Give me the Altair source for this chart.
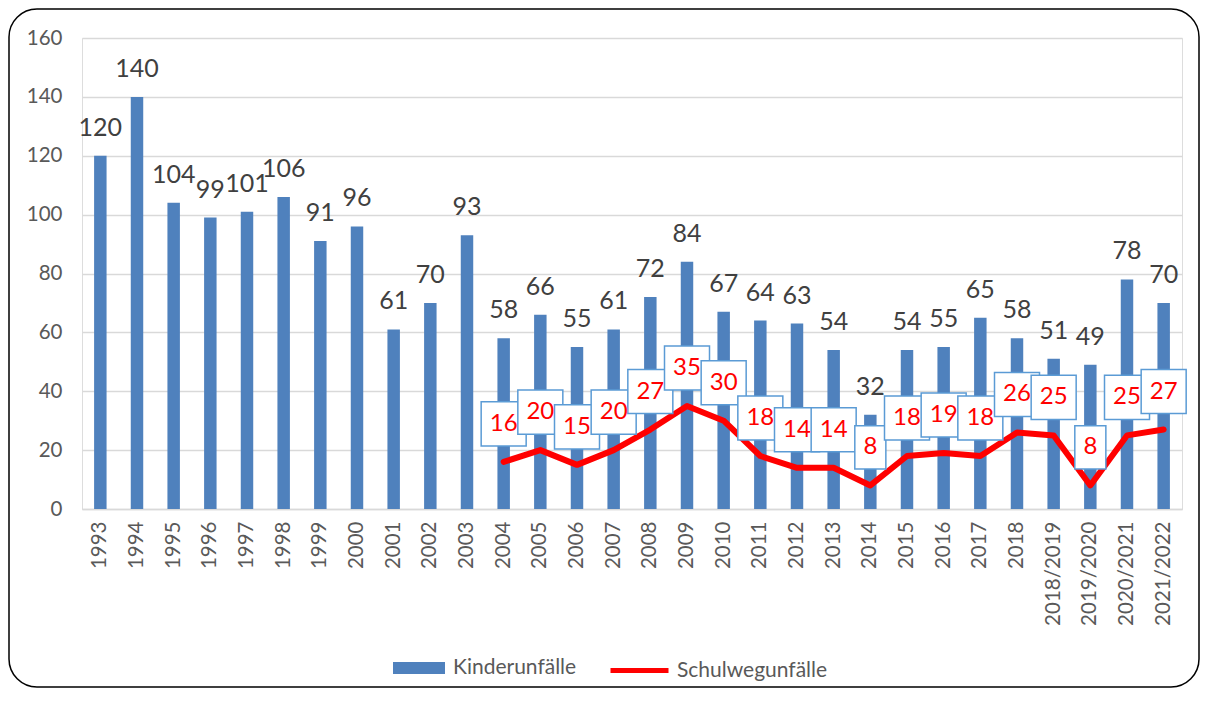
import altair as alt
import pandas as pd

years = ["1993", "1994", "1995", "1996", "1997", "1998", "1999", "2000", "2001", "2002",
         "2003", "2004", "2005", "2006", "2007", "2008", "2009", "2010", "2011", "2012",
         "2013", "2014", "2015", "2016", "2017", "2018", "2018/2019", "2019/2020",
         "2020/2021", "2021/2022"]
kinder = [120, 140, 104, 99, 101, 106, 91, 96, 61, 70, 93, 58, 66, 55, 61, 72, 84, 67,
          64, 63, 54, 32, 54, 55, 65, 58, 51, 49, 78, 70]
schul = [None] * 11 + [16, 20, 15, 20, 27, 35, 30, 18, 14, 14, 8, 18, 19, 18, 26, 25, 8, 25, 27]
y_ticks = [0, 20, 40, 60, 80, 100, 120, 140, 160]

df = pd.DataFrame({"Jahr": years, "Kinder": kinder, "Schul": schul})

FONT = "Lato"
BLUE = "#4f81bd"
RED = "#ff0000"

xenc = alt.X("Jahr:N", sort=years,
             scale=alt.Scale(paddingInner=0.66, paddingOuter=0.33),
             axis=alt.Axis(title=None, labelAngle=-90, labelFontSize=20.5, labelColor="#595959",
                           labelFont=FONT, ticks=False, domainColor="#d9d9d9", domainWidth=1.5,
                           labelPadding=12, grid=False))
yaxis = alt.Axis(title=None, values=y_ticks, grid=True, gridColor="#d9d9d9", gridWidth=1.3,
                 domain=False, ticks=False, labelPadding=20, labelFontSize=20.5,
                 labelColor="#595959", labelFont=FONT)
yscale = alt.Scale(domain=[0, 160], nice=False)

base = alt.Chart(df)

bars = base.transform_calculate(serie="'Kinderunfälle'").mark_bar().encode(
    x=xenc,
    y=alt.Y("Kinder:Q", scale=yscale, axis=yaxis),
    color=alt.Color("serie:N", scale=alt.Scale(domain=["Kinderunfälle"], range=[BLUE]),
                    legend=alt.Legend(orient="none", legendX=311, legendY=604, title=None,
                                      symbolType="M-1,-0.23L1,-0.23L1,0.23L-1,0.23Z",
                                      symbolSize=2704, symbolStrokeWidth=0,
                                      labelFontSize=21, labelColor="#595959", labelFont=FONT,
                                      labelOffset=8)),
)

bar_labels = base.mark_text(fontSize=25, font=FONT, color="#404040", baseline="middle", dy=-28).encode(
    x=xenc,
    y=alt.Y("Kinder:Q", scale=yscale, axis=yaxis),
    text=alt.Text("Kinder:Q"),
)

line_base = base.transform_filter("isValid(datum.Schul)")

line = line_base.transform_calculate(serie2="'Schulwegunfälle'").mark_line(
    strokeWidth=6, strokeCap="round", strokeJoin="round").encode(
    x=xenc,
    y=alt.Y("Schul:Q", scale=yscale, axis=yaxis),
    stroke=alt.Stroke("serie2:N", scale=alt.Scale(domain=["Schulwegunfälle"], range=[RED]),
                      legend=alt.Legend(orient="none", legendX=526, legendY=601, title=None,
                                        symbolType="stroke", symbolSize=3364,
                                        symbolStrokeWidth=5, labelFontSize=21,
                                        labelColor="#595959", labelFont=FONT, labelOffset=6)),
)

boxes = line_base.mark_point(filled=True, fill="white", stroke="#5b9bd5", strokeWidth=1.5,
                             opacity=1, size=2025, yOffset=-38).encode(
    x=xenc,
    y=alt.Y("Schul:Q", scale=yscale, axis=yaxis),
    shape=alt.condition("datum.Schul < 10",
                        alt.value("M-0.69,-0.96L0.69,-0.96L0.69,0.96L-0.69,0.96Z"),
                        alt.value("M-1,-0.98L1,-0.98L1,0.98L-1,0.98Z")),
)

box_labels = line_base.mark_text(fontSize=24, font=FONT, color=RED, baseline="middle", dy=-38).encode(
    x=xenc,
    y=alt.Y("Schul:Q", scale=yscale, axis=yaxis),
    text=alt.Text("Schul:Q"),
)

border = alt.Chart(pd.DataFrame({"a": [0]})).mark_rect(
    fill="transparent", stroke="black", strokeWidth=1.5, cornerRadius=28).encode(
    x=alt.value(-73), x2=alt.value(1117), y=alt.value(-29), y2=alt.value(649))

chart = alt.layer(border, bars, bar_labels, line, boxes, box_labels).properties(
    width=1100, height=471,
    autosize=alt.AutoSizeParams(type="none"),
    padding={"left": 74, "top": 30, "right": 18, "bottom": 180},
).configure_view(stroke=None).configure(background="white")

chart.save("out.html", embed_options={"renderer": "svg", "actions": False})
